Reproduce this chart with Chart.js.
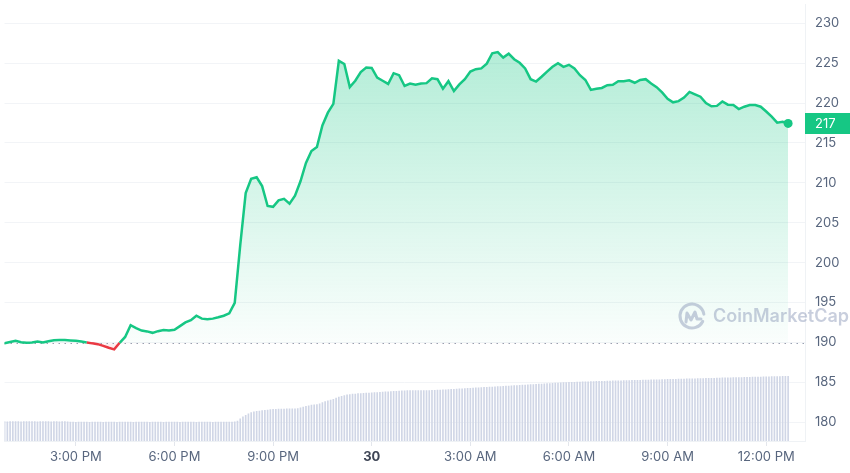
<!DOCTYPE html>
<html>
<head>
<meta charset="utf-8">
<script src="https://cdn.jsdelivr.net/npm/chart.js@4.4.1/dist/chart.umd.min.js"></script>
<style>
  html, body { margin: 0; padding: 0; background: #fff; }
</style>
</head>
<body>
<canvas id="price_chart" width="850" height="473"></canvas>
<script>
/*** DATA ***/

// hours after 12:00 PM on the 29th; price every 10 min, volume every 5 min
const startHour = 40 / 60;
const priceStepMin = 10;
const volumeStepMin = 5;

const prices = [
  189.9, 189.9, 190.05, 190.2, 190.02, 189.97, 190.0, 190.12, 189.99, 190.15,
  190.28, 190.3, 190.29, 190.25, 190.21, 190.1, 190.0, 189.88, 189.78, 189.57,
  189.33, 189.13, 189.95, 190.68, 192.15, 191.78, 191.48, 191.38, 191.2, 191.41,
  191.56, 191.5, 191.59, 192.04, 192.5, 192.78, 193.34, 192.98, 192.9, 192.98,
  193.15, 193.34, 193.65, 194.96, 202.15, 208.73, 210.5, 210.7, 209.6, 207.1,
  207.0, 207.8, 208.0, 207.4, 208.4, 210.2, 212.5, 214.0, 214.5, 217.2,
  218.8, 219.9, 225.3, 224.9, 222.0, 222.8, 223.9, 224.45, 224.4, 223.2,
  222.8, 222.4, 223.75, 223.5, 222.15, 222.45, 222.3, 222.45, 222.5, 223.1,
  223.0, 221.8, 222.75, 221.5, 222.35, 223.0, 223.95, 224.25, 224.35, 224.95,
  226.25, 226.4, 225.7, 226.2, 225.5, 225.05, 224.35, 223.0, 222.7, 223.3,
  223.95, 224.55, 225.0, 224.55, 224.8, 224.35, 223.5, 222.9, 221.65, 221.8,
  221.9, 222.25, 222.3, 222.75, 222.75, 222.85, 222.55, 222.9, 223.0, 222.45,
  222.0, 221.35, 220.55, 220.1, 220.25, 220.7, 221.4, 221.1, 220.8, 220.0,
  219.6, 219.65, 220.2, 219.8, 219.75, 219.25, 219.55, 219.75, 219.75, 219.55,
  218.95, 218.3, 217.55, 217.65, 217.45
];

// relative 24h volume
const volumes = [
  19.5, 19.6, 19.5, 19.4, 19.5, 19.6, 19.5, 19.5, 19.4, 19.6, 19.5, 19.5, 19.6,
  19.5, 19.4, 19.5, 19.5, 19.6, 19.5, 19.4, 19.5, 19.5, 19.4, 19.5, 19.5, 19.3,
  19.1, 19.0, 18.9, 19.0, 19.1, 19.0, 19.0, 18.9, 19.0, 19.1,
  19.0, 19.0, 18.9, 19.0, 19.0, 19.1, 19.0, 18.9, 19.0, 19.0,
  19.1, 19.0, 19.0, 18.9, 19.0, 19.0, 19.1, 19.0, 19.0, 18.9,
  19.0, 19.1, 19.0, 19.0, 18.9, 19.0, 19.0, 19.1, 19.0, 19.0,
  18.9, 19.0, 19.0, 19.1, 19.0, 19.0, 18.9, 19.0, 19.0, 19.1,
  19.0, 19.0, 18.9, 19.0, 19.0, 19.1, 19.0, 19.0, 19.1, 19.2, 19.3,
  20.0, 22.5, 24.5, 26.0, 27.5, 28.8, 29.5, 30.0, 30.3, 30.7,
  31.0, 31.3, 31.7, 32.0, 32.1, 32.2, 32.3, 32.3, 32.4, 32.5,
  32.6, 32.6, 32.7, 33.5, 34.2, 35.0, 35.6, 36.2, 36.5, 36.8,
  37.5, 38.8, 39.8, 40.6, 41.3, 42.2, 43.3, 44.3, 45.1, 46.0,
  46.6, 47.0, 47.3, 47.5, 47.8, 48.0, 48.1, 48.3, 48.5, 48.7,
  48.9, 49.0, 49.2, 49.4, 49.6, 49.8, 50.0, 50.1, 50.3, 50.5,
  50.7, 50.8, 50.9, 51.0, 51.0, 51.0, 51.0, 51.0, 51.0,
  51.0, 51.0, 51.1, 51.2, 51.4, 51.5, 51.6, 51.8, 52.0, 52.1,
  52.3, 52.4, 52.6, 52.8, 53.0, 53.1, 53.3, 53.4, 53.6, 53.8,
  54.0, 54.1, 54.3, 54.4, 54.6, 54.8, 55.0, 55.1, 55.3, 55.4,
  55.6, 55.8, 56.0, 56.1, 56.3, 56.4, 56.6, 56.8, 57.0, 57.1,
  57.3, 57.4, 57.6, 57.8, 58.0, 58.1, 58.3, 58.4, 58.6, 58.8,
  59.0, 59.1, 59.2, 59.3, 59.4, 59.5, 59.6, 59.7, 59.8, 59.9,
  60.0, 60.1, 60.2, 60.3,
  60.4, 60.4, 60.5, 60.6, 60.7, 60.7, 60.8, 60.9, 61.0, 61.0,
  61.1, 61.2, 61.3, 61.3, 61.4, 61.5, 61.6, 61.6, 61.7, 61.8,
  61.9, 61.9, 62.0, 62.1, 62.2, 62.2, 62.3, 62.4, 62.5, 62.5,
  62.6, 62.7, 62.8, 62.8, 62.9, 63.0, 63.1, 63.1, 63.2, 63.3,
  63.4, 63.4, 63.5, 63.6, 63.7, 63.7, 63.8, 63.9, 64.0, 64.0,
  64.1, 64.2, 64.3, 64.3, 64.4, 64.5, 64.6, 64.6, 64.7, 64.8,
  64.9, 64.9, 65.0, 65.1, 65.2, 65.2, 65.3, 65.3, 65.3
];

const xTickHours = [3, 6, 9, 12, 15, 18, 21, 24];
const xTickLabels = ['3:00 PM', '6:00 PM', '9:00 PM', '30', '3:00 AM', '6:00 AM', '9:00 AM', '12:00 PM'];
const yTicks = [180, 185, 190, 195, 200, 205, 210, 215, 220, 225, 230];

/*** STYLE ***/

const green = '#16c784';
const red = '#ea3943';
const labelGray = '#58667e';
const fontFamily = 'Inter, "Noto Sans", sans-serif';
const basePrice = prices[0];
const lastPrice = prices[prices.length - 1];

const priceData = prices.map((p, i) => ({ x: startHour + i * priceStepMin / 60, y: p }));
const volumeData = volumes.map((v, i) => ({ x: startHour + i * volumeStepMin / 60, y: v }));

/*** PLUGINS ***/

const baselinePlugin = {
  id: 'baseline',
  beforeDatasetsDraw(chart) {
    const { ctx, chartArea, scales } = chart;
    const y = Math.round(scales.y.getPixelForValue(basePrice)) + 0.5;
    ctx.save();
    ctx.strokeStyle = '#98a0b3';
    ctx.lineWidth = 1;
    ctx.setLineDash([1.5, 4.5]);
    ctx.beginPath();
    ctx.moveTo(chartArea.left, y);
    ctx.lineTo(chartArea.right, y);
    ctx.stroke();
    ctx.restore();
  }
};

const watermarkPlugin = {
  id: 'watermark',
  afterDatasetsDraw(chart) {
    const { ctx, chartArea } = chart;
    const cx = chartArea.right - 113;
    const cy = chartArea.bottom - 125;
    ctx.save();
    ctx.strokeStyle = 'rgba(125,138,175,0.42)';
    ctx.fillStyle = 'rgba(125,138,175,0.42)';
    ctx.lineWidth = 3;
    ctx.lineCap = 'round';
    ctx.lineJoin = 'round';
    ctx.beginPath();
    ctx.arc(cx, cy, 12, Math.PI * 0.15, Math.PI * 1.95);
    ctx.stroke();
    ctx.beginPath();
    ctx.moveTo(cx - 6, cy + 6);
    ctx.lineTo(cx - 5, cy - 3);
    ctx.lineTo(cx - 1, cy + 4);
    ctx.lineTo(cx + 3, cy - 4);
    ctx.lineTo(cx + 5, cy + 3);
    ctx.lineTo(cx + 9, cy + 3);
    ctx.stroke();
    ctx.font = '600 18px ' + fontFamily;
    ctx.textBaseline = 'middle';
    ctx.textAlign = 'left';
    ctx.fillText('CoinMarketCap', cx + 21, cy + 1);
    ctx.restore();
  }
};

const priceTagPlugin = {
  id: 'priceTag',
  afterDraw(chart) {
    const { ctx, chartArea, scales, width } = chart;
    const y = scales.y.getPixelForValue(lastPrice);
    ctx.save();
    ctx.fillStyle = green;
    ctx.fillRect(chartArea.right, Math.round(y - 10.5), width - chartArea.right, 21);
    ctx.fillStyle = '#fff';
    ctx.font = '13px ' + fontFamily;
    ctx.textBaseline = 'middle';
    ctx.textAlign = 'left';
    ctx.fillText(String(Math.round(lastPrice)), chartArea.right + 10, y + 0.5);
    ctx.restore();
  }
};

/*** CHART ***/

const ctx = document.getElementById('price_chart').getContext('2d');

new Chart(ctx, {
  data: {
    datasets: [{
      type: 'line',
      label: 'Price',
      data: priceData,
      order: 0,
      borderColor: green,
      borderWidth: 2.5,
      tension: 0,
      pointRadius: c => c.dataIndex === prices.length - 1 ? 4.5 : 0,
      pointBackgroundColor: green,
      pointBorderWidth: 0,
      pointHoverRadius: 0,
      segment: {
        borderColor: c => (c.p0.parsed.y < basePrice || c.p1.parsed.y < basePrice) ? red : undefined
      },
      backgroundColor: c => {
        const { chart } = c;
        const { chartArea, scales } = chart;
        if (!chartArea) return 'rgba(22,199,132,0.15)';
        const top = scales.y.getPixelForValue(Math.max(...prices));
        const bottom = scales.y.getPixelForValue(basePrice);
        const g = chart.ctx.createLinearGradient(0, top, 0, bottom);
        g.addColorStop(0, 'rgba(22,199,132,0.32)');
        g.addColorStop(1, 'rgba(22,199,132,0.02)');
        return g;
      },
      fill: { value: basePrice, below: 'rgba(234,57,67,0.08)' },
      yAxisID: 'y',
      xAxisID: 'x'
    }, {
      type: 'bar',
      label: 'Volume',
      data: volumeData,
      order: 1,
      backgroundColor: '#d0d6e6',
      barThickness: 1,
      yAxisID: 'yv',
      xAxisID: 'x'
    }]
  },
  options: {
    responsive: false,
    animation: false,
    events: [],
    layout: { padding: 0 },
    plugins: {
      legend: { display: false },
      tooltip: { enabled: false }
    },
    scales: {
      x: {
        type: 'linear',
        offset: false,
        min: 0.83,
        max: 25.18,
        afterBuildTicks: s => { s.ticks = xTickHours.map(v => ({ value: v })); },
        ticks: {
          callback: v => xTickLabels[xTickHours.indexOf(v)],
          color: c => (c.tick && c.tick.value === 12) ? '#3f4656' : labelGray,
          font: c => ({ family: fontFamily, size: 13, weight: (c.tick && c.tick.value === 12) ? '700' : '400' }),
          maxRotation: 0,
          autoSkip: false,
          padding: 3
        },
        grid: { drawOnChartArea: false, drawTicks: true, tickLength: 5, color: '#e3e6ec', offset: false },
        border: { display: true, color: '#eff2f5' },
        afterFit: s => { s.height = 32; s.paddingLeft = 0; s.paddingRight = 0; }
      },
      y: {
        position: 'right',
        min: 177.64,
        max: 232.36,
        afterBuildTicks: s => { s.ticks = yTicks.map(v => ({ value: v })); },
        ticks: { color: labelGray, font: { family: fontFamily, size: 13 }, padding: 10 },
        grid: { color: '#f2f4f7', drawTicks: false },
        border: { display: true, color: '#eff2f5' },
        afterFit: s => { s.width = 45; s.paddingTop = 0; s.paddingBottom = 0; }
      },
      yv: {
        display: false,
        min: 0,
        max: 441
      }
    }
  },
  plugins: [baselinePlugin, watermarkPlugin, priceTagPlugin]
});
</script>
</body>
</html>
